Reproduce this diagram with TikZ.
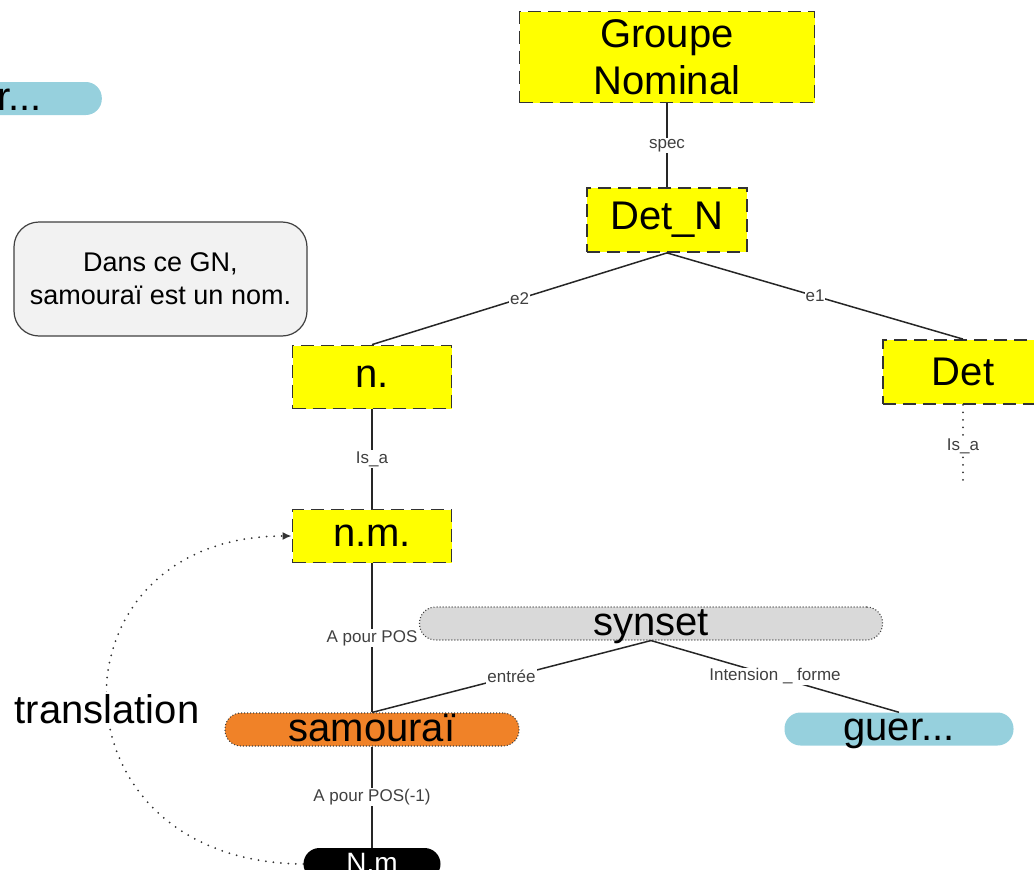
\documentclass[tikz,border=0pt]{standalone}
\usepackage{fontspec}
\setmainfont{Liberation Sans}
\usepackage{tikz}
\usetikzlibrary{shapes,arrows.meta}
\definecolor{gnyellow}{HTML}{FFFF00}
\definecolor{samorange}{HTML}{F08228}
\definecolor{guerblue}{HTML}{96D0DD}
\definecolor{synsetgrey}{HTML}{D9D9D9}
\definecolor{notegrey}{HTML}{F2F2F2}
\def\bigfont{\fontsize{40}{47}\selectfont}

\begin{document}
\begin{tikzpicture}[x=1pt,y=-1pt,
    catbox/.style={draw=black!80,line width=1.8pt,dash pattern=on 13pt off 7pt,
        fill=gnyellow,font=\bigfont,inner sep=0pt},
    pill/.style={rounded corners=16pt,inner xsep=0pt,inner ysep=0pt,
        text height=28pt,text depth=5pt,font=\bigfont},
    dotborder/.style={draw=black!75,line width=1.1pt,dash pattern=on 1pt off 2pt},
    rel/.style={draw=black!85,line width=1.5pt},
    sparse/.style={line width=2pt,line cap=round,dash pattern=on 0pt off 7.5pt},
    lab/.style={fill=white,text=black!75,font=\fontsize{17}{20}\selectfont,inner sep=1pt}]
    \useasboundingbox (0,0) rectangle (1034,870);
    \clip (0,0) rectangle (1034,870);

    % Draw the syntax nodes
    \node (gn) [catbox,minimum width=295,minimum height=91,align=center]
        at (667,57) {Groupe\\Nominal};
    \node (detn) [catbox,minimum width=160,minimum height=64] at (667,220) {Det\_N};
    \node (n) [catbox,minimum width=159,minimum height=63] at (372,377) {n.};
    \node (det) [catbox,minimum width=160,minimum height=64] at (963,372) {Det};
    \node (nm) [catbox,minimum width=159,minimum height=53] at (372,536) {n.m.};
    \coordinate (detend) at (963,487);

    % Draw the lexical nodes
    \node (synset) [pill,dotborder,fill=synsetgrey,minimum width=463] at (651,623.5) {synset};
    \node (sam) [pill,dotborder,fill=samorange,minimum width=294] at (372,729.5) {samouraï};
    \node (guer) [pill,fill=guerblue,minimum width=229] at (899,729) {guer...};
    \node (guerb) [pill,fill=guerblue,anchor=east,text width=109pt,inner xsep=60pt,
        align=right] at (102,98.5) {r...};
    \node (nmb) [pill,fill=black,text=white,minimum width=137,text height=22pt,
        text depth=6pt,inner ysep=2pt,font=\fontsize{28}{32}\selectfont] at (372,864) {N.m};

    % Draw the comment
    \node (note) [draw=black!75,line width=1.2pt,fill=notegrey,rounded corners=25pt,
        minimum width=293,minimum height=114,align=center,
        font=\fontsize{27}{33}\selectfont] at (160.5,279) {Dans ce GN,\\samouraï est un nom.};

    % Draw the relations
    \draw [rel] (gn) -- node [lab] {spec} (detn);
    \draw [rel] (detn.south) -- node [lab] {e2} (n.north);
    \draw [rel] (detn.south) -- node [lab] {e1} (det.north);
    \draw [rel] (n) -- node [lab] {Is\_a} (nm);
    \draw [sparse,black!80] (det) -- node [lab] {Is\_a} (detend);
    \draw [rel] (nm) -- node [lab] {A pour POS} (sam);
    \draw [rel] (synset.south) -- node [lab] {entrée} (sam.north);
    \draw [rel] (synset.south) -- node [lab] {Intension \_ forme} (guer.north);
    \draw [rel] (sam) -- node [lab] {A pour POS(-1)} (nmb);

    % Draw the translation loop
    \draw [sparse,black!80,-{Latex[length=9pt,width=8pt]}] (nmb.west)
        .. controls (44,862) and (44,536) .. (nm.west);
    \node (trans) [fill=white,inner sep=2pt,font=\bigfont] at (107,709) {translation};

\end{tikzpicture}
\end{document}
